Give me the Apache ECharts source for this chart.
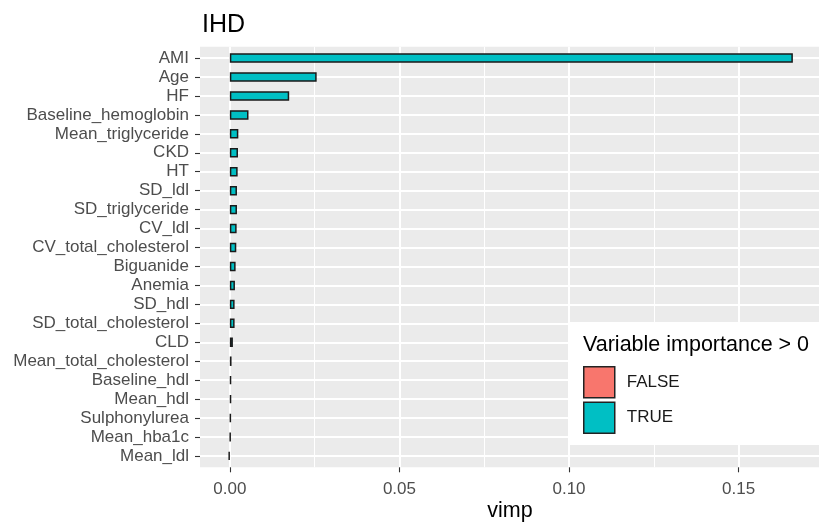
<!DOCTYPE html>
<html>
<head>
<meta charset="utf-8">
<script src="https://cdn.jsdelivr.net/npm/echarts@6/dist/echarts.min.js"></script>
<style>
  html, body { margin: 0; padding: 0; background: #fff; }
  #chart { width: 819px; height: 522px; }
</style>
</head>
<body>
<div id="chart"></div>
<script>
// Variable importance (vimp) for the IHD outcome, sorted from largest to smallest.
const variables = [
  'AMI', 'Age', 'HF', 'Baseline_hemoglobin', 'Mean_triglyceride', 'CKD', 'HT',
  'SD_ldl', 'SD_triglyceride', 'CV_ldl', 'CV_total_cholesterol', 'Biguanide',
  'Anemia', 'SD_hdl', 'SD_total_cholesterol', 'CLD', 'Mean_total_cholesterol',
  'Baseline_hdl', 'Mean_hdl', 'Sulphonylurea', 'Mean_hba1c', 'Mean_ldl'
];
const vimp = [
  0.1660, 0.0256, 0.0175, 0.0055, 0.0025, 0.0024, 0.0023,
  0.0021, 0.0021, 0.0020, 0.0019, 0.0017,
  0.0015, 0.0014, 0.0014, 0.0009, 0.0005,
  0.0004, 0.0004, 0.0003, 0.0002, -0.0004
];
const majorTicks = [0, 0.05, 0.10, 0.15];
const minorTicks = [0.025, 0.075, 0.125, 0.175];
const legendLabels = ['FALSE', 'TRUE'];

// x range with a small expansion on both sides of the data
const X_MIN = -0.0088;
const X_MAX = 0.1740;
const X_STEP = 0.05;

const FONT = '"Liberation Sans", Arial, Helvetica, sans-serif';
const FILL_TRUE = '#00BFC4';
const FILL_FALSE = '#F8766D';

// panel geometry: a discrete axis padded by 0.6 of a band on each side
const PANEL_LEFT = 200;
const PANEL_RIGHT = -1;
const PANEL_TOP = 46.7;
const PANEL_BOTTOM = 54.7;
const PANEL_W = 819 - PANEL_LEFT - PANEL_RIGHT;
const PANEL_H = 522 - PANEL_TOP - PANEL_BOTTOM;
const band = PANEL_H / (variables.length + 0.2);
const inset = 0.1 * band;
// left edge of the sub-grid that starts exactly at x = 0, so the tick axis can count from 0
const ZERO_LEFT = PANEL_LEFT + (0 - X_MIN) / (X_MAX - X_MIN) * PANEL_W;

const centerIdx = variables.map((_, i) => i);

const positive = vimp.map(v => (v > 0 ? v : '-'));
const nonPositive = vimp.map(v => (v > 0 ? '-' : v));

const chart = echarts.init(document.getElementById('chart'), null, { renderer: 'canvas' });

chart.setOption({
  animation: false,
  backgroundColor: '#fff',
  textStyle: { fontFamily: FONT },
  title: [
    {
      text: 'IHD',
      left: 197, top: 8,
      textStyle: { fontFamily: FONT, fontSize: 25, fontWeight: 'normal', color: '#000' }
    },
    {
      text: 'Variable importance > 0',
      left: 578, top: 329,
      z: 10,
      textStyle: { fontFamily: FONT, fontSize: 21.5, fontWeight: 'normal', color: '#000' }
    }
  ],
  legend: {
    orient: 'vertical',
    left: 568, top: 322,
    padding: [44, 170, 11, 15],
    backgroundColor: '#fff',
    itemWidth: 31, itemHeight: 31, itemGap: 3,
    icon: 'rect',
    selectedMode: false,
    data: legendLabels,
    textStyle: { fontFamily: FONT, fontSize: 17, color: '#1a1a1a', padding: [0, 0, 0, 7] },
    itemStyle: { borderColor: '#222', borderWidth: 1.5 }
  },
  grid: [
    { // panel background and grid lines
      left: PANEL_LEFT, right: PANEL_RIGHT, top: PANEL_TOP, bottom: PANEL_BOTTOM,
      outerBoundsMode: 'none', containLabel: false,
      show: true, backgroundColor: '#EBEBEB', borderWidth: 0
    },
    { // bars
      left: PANEL_LEFT, right: PANEL_RIGHT, top: PANEL_TOP + inset, bottom: PANEL_BOTTOM + inset,
      outerBoundsMode: 'none', containLabel: false,
      show: false
    },
    { // x ticks and tick labels, starting at x = 0
      left: ZERO_LEFT, right: PANEL_RIGHT, top: PANEL_TOP, bottom: PANEL_BOTTOM,
      outerBoundsMode: 'none', containLabel: false,
      show: false
    }
  ],
  xAxis: [
    {
      gridIndex: 0, type: 'value', min: X_MIN, max: X_MAX, position: 'bottom',
      name: 'vimp', nameLocation: 'middle', nameGap: 33, nameMoveOverlap: false,
      nameTextStyle: { fontFamily: FONT, fontSize: 21.5, color: '#000' },
      axisLine: { show: false, onZero: false },
      axisTick: { show: false, customValues: majorTicks },
      axisLabel: { show: false, customValues: majorTicks },
      splitLine: { show: true, lineStyle: { color: '#fff', width: 2 } }
    },
    {
      gridIndex: 0, type: 'value', min: X_MIN, max: X_MAX, position: 'bottom',
      axisLine: { show: false, onZero: false },
      axisTick: { show: false, customValues: minorTicks },
      axisLabel: { show: false, customValues: minorTicks },
      splitLine: { show: true, lineStyle: { color: '#fff', width: 1 } }
    },
    {
      gridIndex: 1, type: 'value', min: X_MIN, max: X_MAX, show: false,
      axisLine: { onZero: false },
      splitLine: { show: false }
    },
    {
      gridIndex: 2, type: 'value', min: 0, max: X_MAX, interval: X_STEP, position: 'bottom',
      axisLine: { show: true, onZero: false, lineStyle: { color: 'rgba(0,0,0,0)', width: 0 } },
      axisTick: { show: true, length: 5, lineStyle: { color: '#333', width: 1.1 } },
      axisLabel: {
        margin: 14, showMaxLabel: false,
        fontFamily: FONT, fontSize: 17, color: '#4D4D4D',
        formatter: v => v.toFixed(2)
      },
      splitLine: { show: false }
    }
  ],
  yAxis: [
    {
      gridIndex: 0, type: 'value', inverse: true, position: 'left',
      min: -0.6, max: variables.length - 1 + 0.6,
      axisLine: { show: false, onZero: false },
      axisTick: { show: false, customValues: centerIdx },
      axisLabel: { show: false, customValues: centerIdx },
      splitLine: { show: true, lineStyle: { color: '#fff', width: 2 } }
    },
    {
      gridIndex: 1, type: 'category', inverse: true, data: variables, position: 'left',
      axisLine: { show: false, onZero: false },
      axisTick: { show: true, interval: 0, alignWithLabel: true, length: 5, lineStyle: { color: '#333', width: 1.1 } },
      axisLabel: { interval: 0, margin: 11, fontFamily: FONT, fontSize: 17, color: '#4D4D4D' },
      splitLine: { show: false }
    },
    {
      gridIndex: 2, type: 'value', show: false,
      axisLine: { onZero: false },
      splitLine: { show: false }
    }
  ],
  series: [
    {
      name: 'TRUE', type: 'bar', xAxisIndex: 2, yAxisIndex: 1,
      data: positive, barWidth: '50%', barGap: '-100%',
      itemStyle: { color: FILL_TRUE, borderColor: '#1a1a1a', borderWidth: 1.5 },
      z: 3
    },
    {
      name: 'FALSE', type: 'bar', xAxisIndex: 2, yAxisIndex: 1,
      data: nonPositive, barWidth: '50%', barGap: '-100%',
      itemStyle: { color: FILL_FALSE, borderColor: '#1a1a1a', borderWidth: 1.5 },
      z: 3
    }
  ]
});
</script>
</body>
</html>
